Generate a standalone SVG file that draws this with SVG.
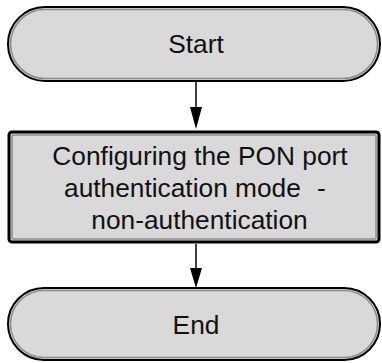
<svg xmlns="http://www.w3.org/2000/svg" width="382" height="363" viewBox="0 0 382 363">
<defs>
<style>
.outer{fill:#d9d9d9;stroke:#000;stroke-width:2}
.inner{fill:none;stroke:#8c8c8c;stroke-width:1.5}
.pouter{fill:#d9d9d9;stroke:#000;stroke-width:3}
.txt{font-family:"Liberation Sans",Arial,sans-serif;font-size:26.3px;fill:#111}
.conn{stroke:#000;stroke-width:1.5;fill:none}
.head{fill:#000}
</style>
</defs>
<g id="connectors">
<line class="conn" x1="196" y1="81" x2="196" y2="107"/>
<polygon class="head" points="190,107 202,107 196,129"/>
<line class="conn" x1="196" y1="244" x2="196" y2="268"/>
<polygon class="head" points="190,268 202,268 196,288"/>
</g>
<g id="start">
<rect class="outer" x="8" y="7" width="372" height="74" rx="37" ry="37"/>
<rect class="inner" x="10.5" y="9.5" width="367" height="69" rx="34.5" ry="34.5"/>
<text class="txt" x="196" y="53" text-anchor="middle">Start</text>
</g>
<g id="process">
<rect class="pouter" x="9" y="132" width="370" height="110" rx="3" ry="3"/>
<rect class="inner" x="12" y="135" width="364" height="104" rx="1.5" ry="1.5"/>
<text class="txt" x="200" y="164.5" text-anchor="middle">Configuring the PON port</text>
<text class="txt" x="64" y="196.5">authentication mode<tspan x="317">-</tspan></text>
<text class="txt" x="199.5" y="229" text-anchor="middle">non-authentication</text>
</g>
<g id="end">
<rect class="outer" x="8" y="288" width="372" height="72" rx="36" ry="36"/>
<rect class="inner" x="10.5" y="290.5" width="367" height="67" rx="33.5" ry="33.5"/>
<text class="txt" x="196" y="334" text-anchor="middle">End</text>
</g>
</svg>
